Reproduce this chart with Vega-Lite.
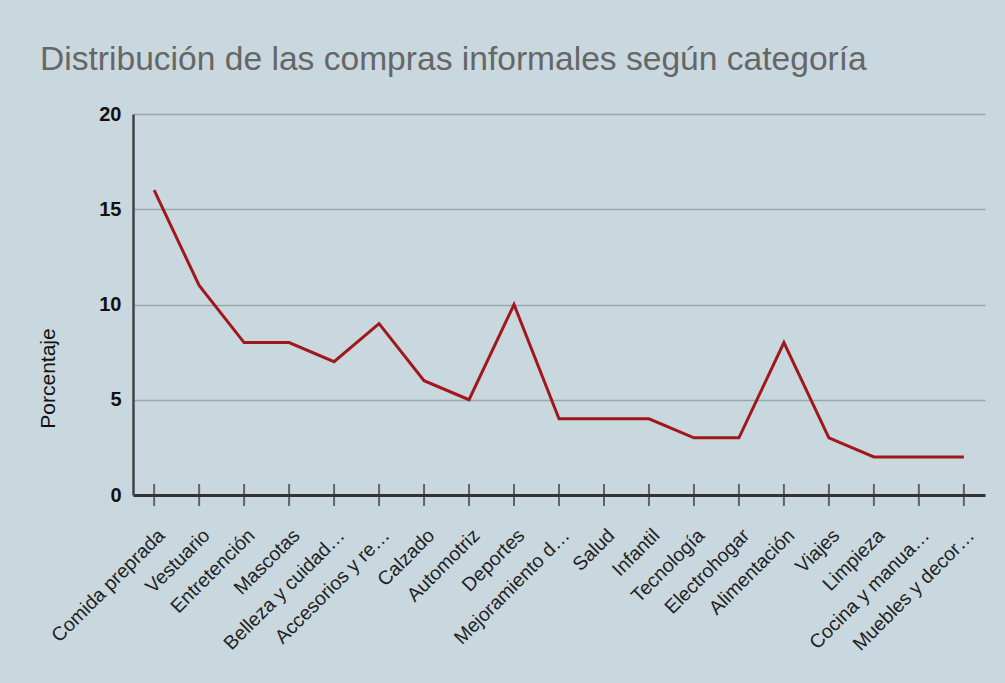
{
  "$schema": "https://vega.github.io/schema/vega-lite/v6.json",
  "autosize": {"type": "none"},
  "width": 852,
  "height": 381,
  "padding": {"left": 133, "top": 114, "right": 20, "bottom": 188},
  "background": "#c9d8de",
  "title": {
    "text": "Distribución de las compras informales según categoría",
    "anchor": "start",
    "frame": "group",
    "dx": -93,
    "offset": 0,
    "baseline": "alphabetic",
    "font": "Liberation Sans",
    "fontSize": 33.6,
    "fontWeight": "normal",
    "color": "#666666"
  },
  "config": {
    "view": {"stroke": null},
    "font": "Liberation Sans"
  },
  "data": {
    "values": [
      {"categoria": "Comida preprada", "porcentaje": 16},
      {"categoria": "Vestuario", "porcentaje": 11},
      {"categoria": "Entretención", "porcentaje": 8},
      {"categoria": "Mascotas", "porcentaje": 8},
      {"categoria": "Belleza y cuidad…", "porcentaje": 7},
      {"categoria": "Accesorios y re…", "porcentaje": 9},
      {"categoria": "Calzado", "porcentaje": 6},
      {"categoria": "Automotriz", "porcentaje": 5},
      {"categoria": "Deportes", "porcentaje": 10},
      {"categoria": "Mejoramiento d…", "porcentaje": 4},
      {"categoria": "Salud", "porcentaje": 4},
      {"categoria": "Infantil", "porcentaje": 4},
      {"categoria": "Tecnología", "porcentaje": 3},
      {"categoria": "Electrohogar", "porcentaje": 3},
      {"categoria": "Alimentación", "porcentaje": 8},
      {"categoria": "Viajes", "porcentaje": 3},
      {"categoria": "Limpieza", "porcentaje": 2},
      {"categoria": "Cocina y manua…", "porcentaje": 2},
      {"categoria": "Muebles y decor…", "porcentaje": 2}
    ]
  },
  "encoding": {
    "x": {
      "field": "categoria",
      "type": "nominal",
      "sort": null,
      "scale": {"type": "point", "padding": 0.47},
      "axis": {
        "title": null,
        "ticks": false,
        "domainColor": "#333333",
        "domainWidth": 3,
        "labelAngle": -45,
        "labelAlign": "right",
        "labelBaseline": "middle",
        "labelPadding": 37,
        "labelOffset": 7,
        "labelFontSize": 19.5,
        "labelColor": "#222222",
        "labelFont": "Liberation Sans",
        "labelLimit": 300,
        "grid": false
      }
    }
  },
  "layer": [
    {
      "mark": {"type": "line", "color": "#a0181c", "strokeWidth": 3, "strokeCap": "butt"},
      "encoding": {
        "y": {
          "field": "porcentaje",
          "type": "quantitative",
          "scale": {"domain": [0, 20], "nice": false},
          "axis": {
            "title": "Porcentaje",
            "titleFont": "Liberation Sans",
            "titleFontSize": 21,
            "titleFontWeight": "normal",
            "titleColor": "#111111",
            "titleX": -85,
            "titleY": 264,
            "titleBaseline": "middle",
            "titleAlign": "center",
            "titleAngle": -90,
            "values": [0, 5, 10, 15, 20],
            "ticks": false,
            "labelPadding": 12,
            "labelFontSize": 20,
            "labelFontWeight": "bold",
            "labelColor": "#111111",
            "domainColor": "#444444",
            "domainWidth": 2.5,
            "grid": true,
            "gridColor": "#99a8aa",
            "gridWidth": 1.5
          }
        }
      }
    },
    {
      "mark": {"type": "tick", "orient": "vertical", "size": 22, "thickness": 2, "color": "#333333"},
      "encoding": {
        "y": {"datum": 0}
      }
    }
  ]
}
